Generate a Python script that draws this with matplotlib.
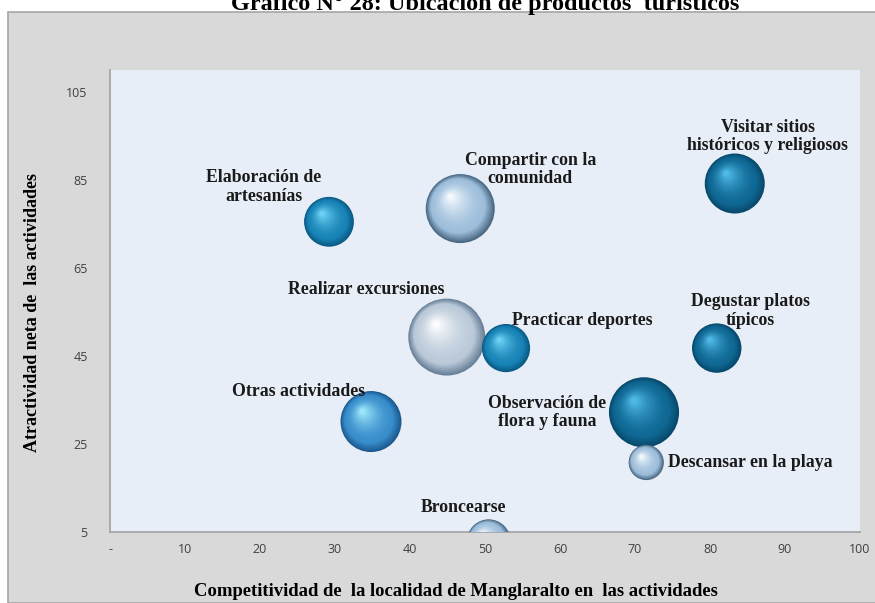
import numpy as np
import matplotlib
matplotlib.use("Agg")
import matplotlib.pyplot as plt
from matplotlib.patches import Rectangle
from matplotlib.transforms import offset_copy
from matplotlib.colors import to_rgb

# Actividades turisticas: competitividad (x), atractividad (y), tamano de burbuja
actividades = [
    "Elaboración de\nartesanías",
    "Compartir con la\ncomunidad",
    "Visitar sitios\nhistóricos y religiosos",
    "Realizar excursiones",
    "Practicar deportes",
    "Degustar platos\ntípicos",
    "Otras actividades",
    "Observación de\nflora y fauna",
    "Descansar en la playa",
    "Broncearse",
]
competitividad = [29.2, 46.7, 83.3, 44.9, 52.8, 80.9, 34.8, 71.2, 71.5, 50.5]
atractividad = [75.5, 78.5, 84.2, 49.3, 46.8, 46.8, 30.1, 32.2, 20.8, 2.9]
tamano = [62, 119, 90, 148, 58, 61, 93, 123, 31, 48]
tono = ["medio", "claro", "oscuro", "plata", "medio", "oscuro", "azul", "oscuro", "claro", "claro"]

xticks = list(range(0, 101, 10))
xtick_labels = ["-"] + [str(v) for v in xticks[1:]]
yticks = list(range(5, 106, 20))

# desplazamiento de etiquetas (px) respecto a la burbuja
label_dx = [-65, 70, 33, -81, 76, 34, -73, -97, 22, -25]
label_dy = [35, 39, 47, 48, 28, 37, 30, 0, 0, 34]
label_ha = ["center"] * 8 + ["left", "center"]

paletas = {
    "oscuro": ("#08496b", "#0f6894", "#4fb9e6"),
    "medio": ("#0a5a84", "#1883b6", "#6cd1f4"),
    "azul": ("#1c5a90", "#388dcb", "#9be6fb"),
    "claro": ("#4a6985", "#9dbedb", "#f2f8fd"),
    "plata": ("#6a8199", "#bac9d9", "#fbfcfe"),
}

serif = ["Liberation Serif", "DejaVu Serif"]
W, H = 875, 603
fig = plt.figure(figsize=(W / 100, H / 100), dpi=100, facecolor="white")
fig.patches.append(Rectangle((8 / W, 0), 1, 1 - 12 / H, transform=fig.transFigure,
                             facecolor="#d9d9d9", edgecolor="#a6a6a6", lw=1.2, zorder=-5))

ax = fig.add_axes([110 / W, 71 / H, 750 / W, 462 / H])
ax.set_zorder(1)
ax.set_facecolor("#e8eef7")
ax.set_xlim(0, 100)
ax.set_ylim(5, 110)
for s in ["top", "right"]:
    ax.spines[s].set_visible(False)
for s in ["left", "bottom"]:
    ax.spines[s].set_color("#a0a0a0")
    ax.spines[s].set_linewidth(1.2)

ax.set_xticks(xticks)
ax.set_xticklabels(xtick_labels)
ax.set_yticks(yticks)
ax.tick_params(axis="both", length=0, labelsize=9, labelcolor="#404040")
ax.tick_params(axis="x", pad=8)
ax.tick_params(axis="y", pad=16)
for lab in ax.get_xticklabels() + ax.get_yticklabels():
    lab.set_family("Open Sans")


def mezcla(a, b, t):
    a, b = np.array(to_rgb(a)), np.array(to_rgb(b))
    return tuple(a * (1 - t) + b * t)


n = 28
for i in range(len(actividades)):
    oscuro, medio, luz = paletas[tono[i]]
    r_pt = np.sqrt(tamano[i] * 10) * 0.72
    for k, t in enumerate(np.linspace(0, 1, n)):
        f = 1 - 0.92 * t
        if t < 0.22:
            c = mezcla(oscuro, medio, t / 0.22)
        else:
            c = mezcla(medio, luz, ((t - 0.22) / 0.78) ** 1.6)
        tr = offset_copy(ax.transData, fig=fig, x=-0.28 * r_pt * t, y=0.34 * r_pt * t, units="points")
        ax.scatter([competitividad[i]], [atractividad[i]], s=(2 * r_pt * f) ** 2,
                   color=c, edgecolors="none", transform=tr, zorder=2 + i)

for i, nombre in enumerate(actividades):
    ax.annotate(nombre, (competitividad[i], atractividad[i]),
                xytext=(label_dx[i] * 0.72, label_dy[i] * 0.72), textcoords="offset points",
                ha=label_ha[i], va="center", fontsize=12.8, fontweight="bold",
                family=serif, color="#1a1a1a", linespacing=1.12, zorder=30,
                annotation_clip=False)

fig.text(485 / W, 1 - 10 / H, "Gráfico N° 28: Ubicación de productos  turísticos",
         ha="center", va="baseline", fontsize=17.5, fontweight="bold", family=serif)
fig.text(456 / W, 1 - 592 / H, "Competitividad de  la localidad de Manglaralto en  las actividades",
         ha="center", va="center", fontsize=13.4, fontweight="bold", family=serif)
fig.text(33 / W, 1 - 313 / H, "Atractividad neta de  las actividades", rotation=90,
         ha="center", va="center", fontsize=13, fontweight="bold", family=serif)

fig.savefig("out.png", dpi=100)
